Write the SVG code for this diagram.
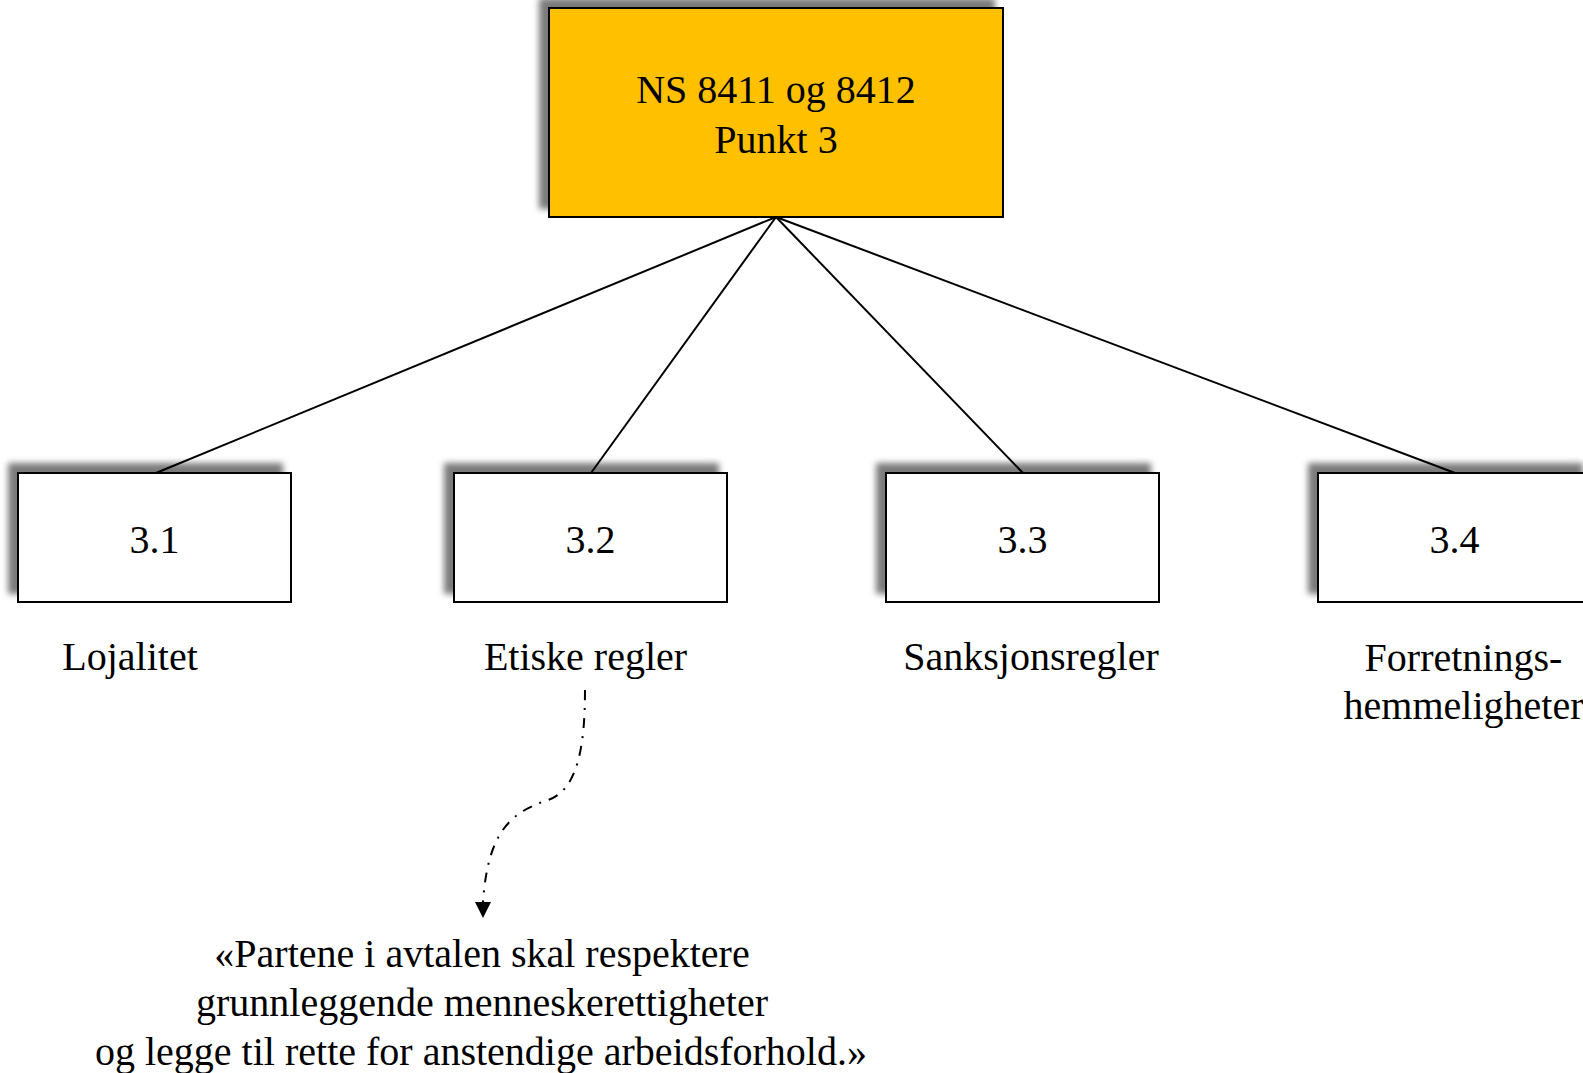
<svg xmlns="http://www.w3.org/2000/svg" width="1583" height="1073" viewBox="0 0 1583 1073">
<style>
text{font-family:"Liberation Serif","Times New Roman",serif;font-size:40px;fill:#000;text-anchor:middle}
.box{stroke:#000;stroke-width:2;filter:url(#sh)}
.ln{stroke:#000;stroke-width:2;fill:none}
</style>
<defs>
<filter id="sh" x="-20%" y="-20%" width="140%" height="140%">
<feDropShadow dx="-9" dy="-9" stdDeviation="3" flood-color="#7a7a7a" flood-opacity="1"/>
</filter>
</defs>
<rect width="1583" height="1073" fill="#fff"/>
<g id="root">
<rect class="box" x="549" y="8" width="454" height="209" fill="#FFC000"/>
<text x="776" y="103">NS 8411 og 8412</text>
<text x="776" y="153">Punkt 3</text>
</g>
<g id="n31">
<rect class="box" x="18" y="473" width="273" height="129" fill="#fff"/>
<text x="154.5" y="553">3.1</text>
<text x="130" y="670">Lojalitet</text>
</g>
<g id="n32">
<rect class="box" x="454" y="473" width="273" height="129" fill="#fff"/>
<text x="590.5" y="553">3.2</text>
<text x="585.5" y="670">Etiske regler</text>
</g>
<g id="n33">
<rect class="box" x="886" y="473" width="273" height="129" fill="#fff"/>
<text x="1022.5" y="553">3.3</text>
<text x="1031" y="670">Sanksjonsregler</text>
</g>
<g id="n34">
<rect class="box" x="1318" y="473" width="273" height="129" fill="#fff"/>
<text x="1454.5" y="553">3.4</text>
<text x="1463.5" y="671">Forretnings-</text>
<text x="1463.5" y="719">hemmeligheter</text>
</g>
<g id="quote">
<text x="482" y="967">«Partene i avtalen skal respektere</text>
<text x="482" y="1016">grunnleggende menneskerettigheter</text>
<text x="481" y="1065">og legge til rette for anstendige arbeidsforhold.»</text>
</g>
<g id="connectors">
<line class="ln" x1="776" y1="217" x2="156" y2="473"/>
<line class="ln" x1="776" y1="217" x2="591" y2="473"/>
<line class="ln" x1="776" y1="217" x2="1023" y2="473"/>
<line class="ln" x1="776" y1="217" x2="1455" y2="473"/>
<path class="ln" d="M585,690 C585,745 578,790 548,800 C512,812 488,830 483,902" stroke-width="2.4" stroke-dasharray="10 8 2 8"/>
<path d="M475,902 L491,902 L483,918 Z" fill="#000"/>
</g>
</svg>
